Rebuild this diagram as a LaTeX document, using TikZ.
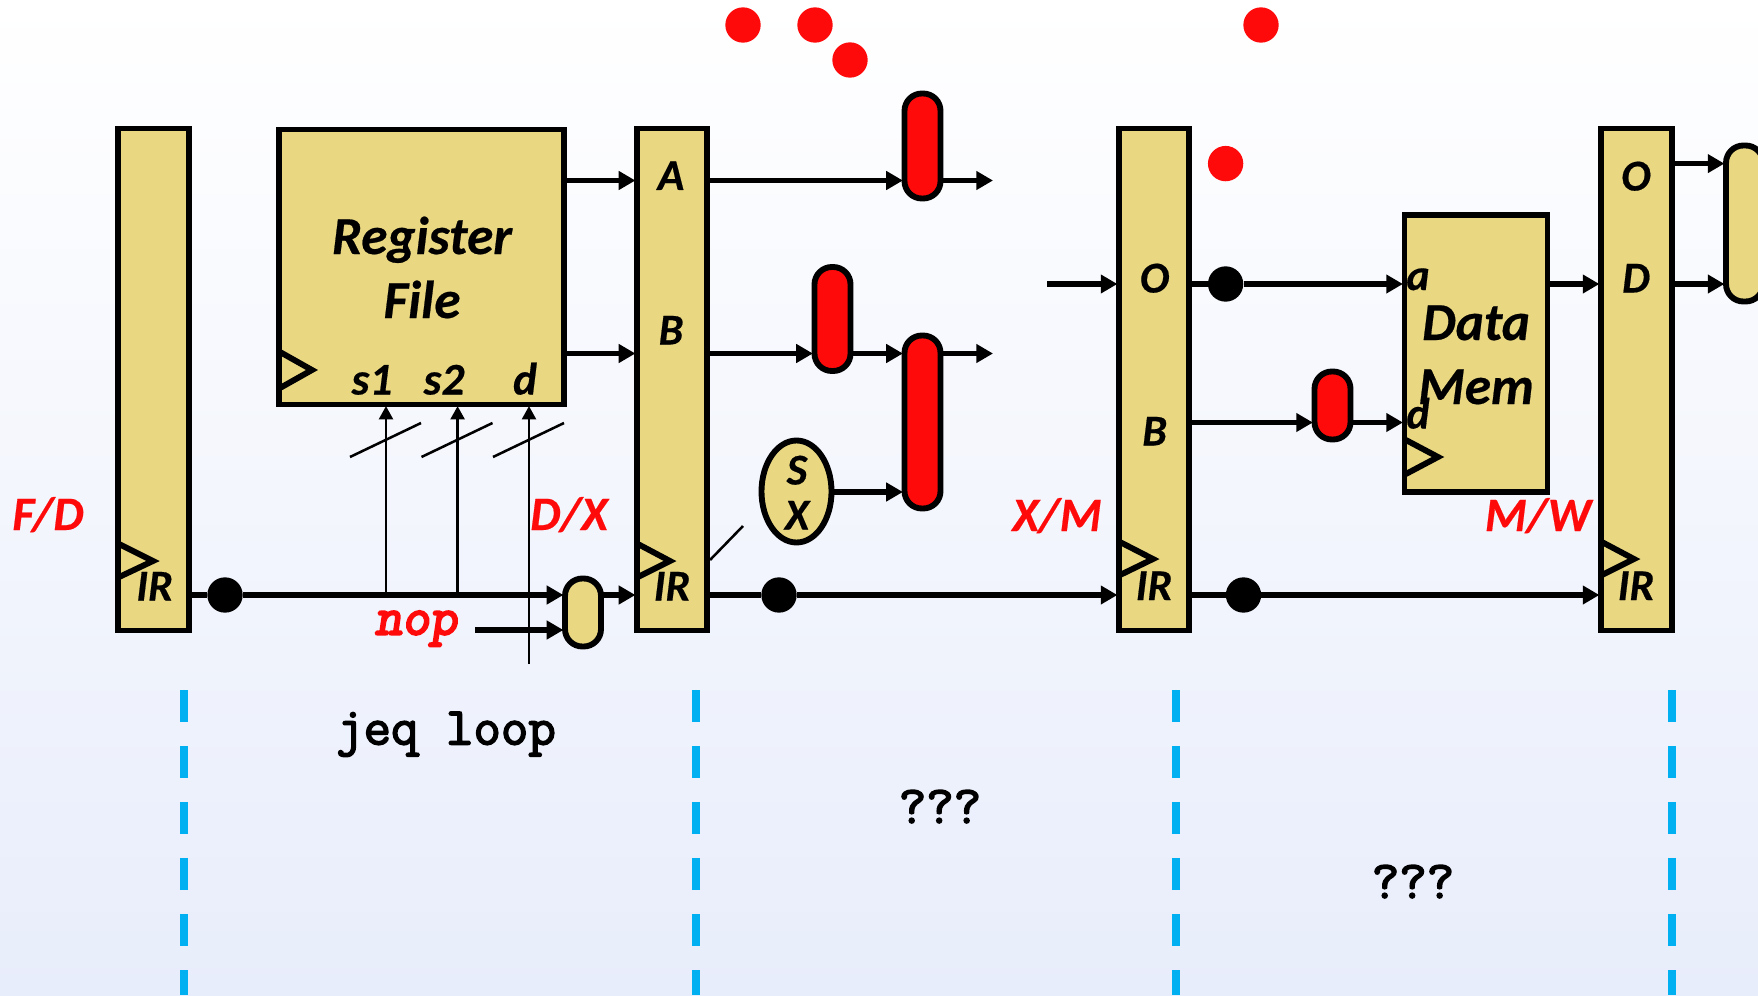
\documentclass[tikz,border=0pt]{standalone}
\usepackage{fontspec}
\setmainfont{Carlito}[BoldItalicFeatures={FakeBold=0.4}]
\newfontfamily\mymono{Latin Modern Mono}[FakeBold=3]
\newfontfamily\mymonor{Latin Modern Mono}[FakeBold=4,FakeSlant=0.15]
\usetikzlibrary{arrows.meta,shapes.geometric}
\definecolor{ylw}{RGB}{233,215,130}
\definecolor{rd}{RGB}{255,10,10}
\definecolor{blu}{RGB}{0,176,240}
\definecolor{bgb}{RGB}{232,237,251}
\tikzset{
  x=0.75pt,y=-0.75pt,
  sz/.style 2 args={minimum width=#1*0.75pt,minimum height=#2*0.75pt,inner sep=0pt},
  box/.style={draw=black,fill=ylw,line width=4.4pt,rectangle,outer sep=1.2pt},
  mux/.style={draw=black,line width=4.4pt,rectangle,rounded corners=13pt,outer sep=1.2pt},
  ymux/.style={mux,fill=ylw},
  rmux/.style={mux,fill=rd},
  dotk/.style={circle,fill=black,minimum size=26.5pt,inner sep=0pt},
  dotr/.style={circle,fill=rd,minimum size=26.5pt,inner sep=0pt},
  wire/.style={line width=3.9pt,-{Triangle[length=12.5pt,width=13.5pt]}},
  plainwire/.style={line width=3.9pt},
  thinw/.style={line width=1.9pt,-{Triangle[length=10pt,width=10.5pt]}},
  thinl/.style={line width=1.9pt},
  clk/.style={line width=4.4pt,draw=black,miter limit=10},
  lab/.style={anchor=base,inner sep=0pt,font=\bfseries\itshape\fontsize{33pt}{33pt}\selectfont},
  lab2/.style={anchor=base,inner sep=0pt,font=\bfseries\itshape\fontsize{34pt}{34pt}\selectfont},
  big/.style={anchor=base,inner sep=0pt,font=\bfseries\itshape\fontsize{40pt}{40pt}\selectfont},
  redl/.style={anchor=base,inner sep=0pt,text=rd,font=\bfseries\itshape\fontsize{36pt}{36pt}\selectfont},
  mono/.style={anchor=base,inner sep=0pt,font=\mymono\fontsize{40pt}{40pt}\selectfont},
  monor/.style={anchor=base,inner sep=0pt,text=rd,font=\mymonor\fontsize{40pt}{40pt}\selectfont},
  dash1/.style={line width=5.7pt,draw=blu,dash pattern=on 24pt off 18pt},
}
\begin{document}
\begin{tikzpicture}
\useasboundingbox (0,0) rectangle (1758,995);
\clip (0,0) rectangle (1758,995);
\shade[top color=white,bottom color=bgb] (0,0) rectangle (1758,995);
% levels
\coordinate (yA) at (0,180.5);
\coordinate (yB) at (0,353.5);
\coordinate (yS) at (0,492);
\coordinate (yI) at (0,595);
\coordinate (yN) at (0,630);
\coordinate (yO) at (0,284);
\coordinate (yC) at (0,422.5);
\coordinate (yW) at (0,163.6);
% blocks
\node[box,sz={71}{502}] (fd) at (153.5,379.5) {};
\node[box,sz={70}{502}] (dx) at (672,379.5) {};
\node[box,sz={70}{502}] (xm) at (1154,379.5) {};
\node[box,sz={71}{502}] (mw) at (1636.5,379.5) {};
\node[box,sz={285}{275}] (rf) at (421.5,267) {};
\node[box,sz={143}{277}] (dm) at (1476,353.75) {};
\node[rmux,sz={36}{105}] (m1) at (922.5,146) {};
\node[rmux,sz={36}{104}] (m2) at (832.5,319) {};
\node[rmux,sz={36}{173}] (m3) at (922.5,422) {};
\node[rmux,sz={36}{68}] (m4) at (1332.5,405.5) {};
\node[ymux,sz={36}{68}] (m5) at (583,612.5) {};
\node[ymux,sz={37}{156}] (m6) at (1744.5,223.5) {};
\node[ellipse,draw=black,fill=ylw,line width=4.4pt,sz={70}{102}] (sx) at (796.5,491.5) {};
% dots
\node[dotk] (d1) at (225,595) {};
\node[dotk] (d2) at (779,595) {};
\node[dotk] (d3) at (1225.6,284) {};
\node[dotk] (d4) at (1243.5,595) {};
\node[dotr] (r1) at (743,25) {};
\node[dotr] (r2) at (815,25) {};
\node[dotr] (r3) at (850,60) {};
\node[dotr] (r4) at (1261,25) {};
\node[dotr] (r5) at (1225.6,163.6) {};
% free ends
\coordinate (outA) at (993,180.5);
\coordinate (outB) at (993,353.5);
\coordinate (inO) at (1047,284);
\coordinate (inN) at (475,630);
\coordinate (v1) at (386,595);
\coordinate (v2) at (457.6,595);
\coordinate (v3) at (529,664);
\coordinate (t1a) at (350,457);\coordinate (t1b) at (421,423);
\coordinate (t2a) at (421.5,457);\coordinate (t2b) at (492.5,423);
\coordinate (t3a) at (493,457);\coordinate (t3b) at (564,423);
\coordinate (t4a) at (710,560);\coordinate (t4b) at (743,526);
% wires
\draw[wire] (rf.east |- yA) -- (dx.west |- yA);
\draw[wire] (rf.east |- yB) -- (dx.west |- yB);
\draw[wire] (dx.east |- yA) -- (m1.west |- yA);
\draw[wire] (m1.east |- yA) -- (outA);
\draw[wire] (dx.east |- yB) -- (m2.west |- yB);
\draw[wire] (m2.east |- yB) -- (m3.west |- yB);
\draw[wire] (m3.east |- yB) -- (outB);
\draw[wire] (sx.east |- yS) -- (m3.west |- yS);
\draw[plainwire] (fd.east |- yI) -- (d1);
\draw[wire] (d1) -- (m5.west |- yI);
\draw[wire] (inN) -- (m5.west |- yN);
\draw[wire] (m5.east |- yI) -- (dx.west |- yI);
\draw[plainwire] (dx.east |- yI) -- (d2);
\draw[wire] (d2) -- (xm.west |- yI);
\draw[plainwire] (xm.east |- yI) -- (d4);
\draw[wire] (d4) -- (mw.west |- yI);
\draw[wire] (inO) -- (xm.west |- yO);
\draw[plainwire] (xm.east |- yO) -- (d3);
\draw[wire] (d3) -- (dm.west |- yO);
\draw[wire] (xm.east |- yC) -- (m4.west |- yC);
\draw[wire] (m4.east |- yC) -- (dm.west |- yC);
\draw[wire] (dm.east |- yO) -- (mw.west |- yO);
\draw[wire] (mw.east |- yW) -- (m6.west |- yW);
\draw[wire] (mw.east |- yO) -- (m6.west |- yO);
\draw[thinw] (v1) -- (v1 |- rf.south);
\draw[thinw] (v2) -- (v2 |- rf.south);
\draw[thinw] (v3) -- (v3 |- rf.south);
\draw[thinl] (t1a) -- (t1b);
\draw[thinl] (t2a) -- (t2b);
\draw[thinl] (t3a) -- (t3b);
\draw[thinl] (t4a) -- (t4b);
% clocks
\draw[clk] (117,543) -- (153,561) -- (117,578);
\draw[clk] (636,543) -- (670,561) -- (636,578);
\draw[clk] (1118,541) -- (1153,559) -- (1118,576);
\draw[clk] (1600,541) -- (1634,559) -- (1600,576);
\draw[clk] (1404,439) -- (1438,457) -- (1404,475);
\draw[clk] (280,352) -- (312,370) -- (280,388);
% dashes
\foreach \xx/\nm in {184/a,696/b,1176/c,1672/d}{
  \coordinate (dt\nm) at (\xx,690);
  \coordinate (db\nm) at (\xx,995);
  \draw[dash1] (dt\nm) -- (db\nm);
}
% labels
\node[lab] (l1) at (154.6,600.5) {IR};
\node[lab] (l2) at (672,600.5) {IR};
\node[lab] (l3) at (1154,600) {IR};
\node[lab] (l4) at (1636,600) {IR};
\node[lab] (l5) at (671,190) {A};
\node[lab] (l6) at (671,344.5) {B};
\node[lab] (l7) at (1154.6,292.5) {O};
\node[lab] (l8) at (1154.6,445.5) {B};
\node[lab] (l9) at (1636,190.5) {O};
\node[lab] (l10) at (1636,292.5) {D};
\node[lab] (l11) at (1418,290) {a};
\node[lab] (l12) at (1418,428.5) {d};
\node[lab] (l13) at (797,484.5) {S};
\node[lab] (l14) at (797,529.5) {X};
\node[lab2] (l15) at (372,394.5) {s1};
\node[lab2] (l16) at (444,394.5) {s2};
\node[lab2] (l17) at (525,394.5) {d};
\node[big] (l18) at (422,254) {Register};
\node[big] (l19) at (422,318) {File};
\node[big] (l20) at (1476,340) {Data};
\node[big] (l21) at (1476,404) {Mem};
\node[redl] (l22) at (48,530) {F/D};
\node[redl] (l23) at (569,530) {D/X};
\node[redl] (l24) at (1057,531) {X/M};
\node[redl] (l25) at (1538,531) {M/W};
\node[monor] (l26) at (416,634.5) {nop};
\node[mono] (l27) at (446,744.5) {jeq loop};
\node[mono] (l28) at (940,823) {???};
\node[mono] (l29) at (1413,898) {???};
\end{tikzpicture}
\end{document}
